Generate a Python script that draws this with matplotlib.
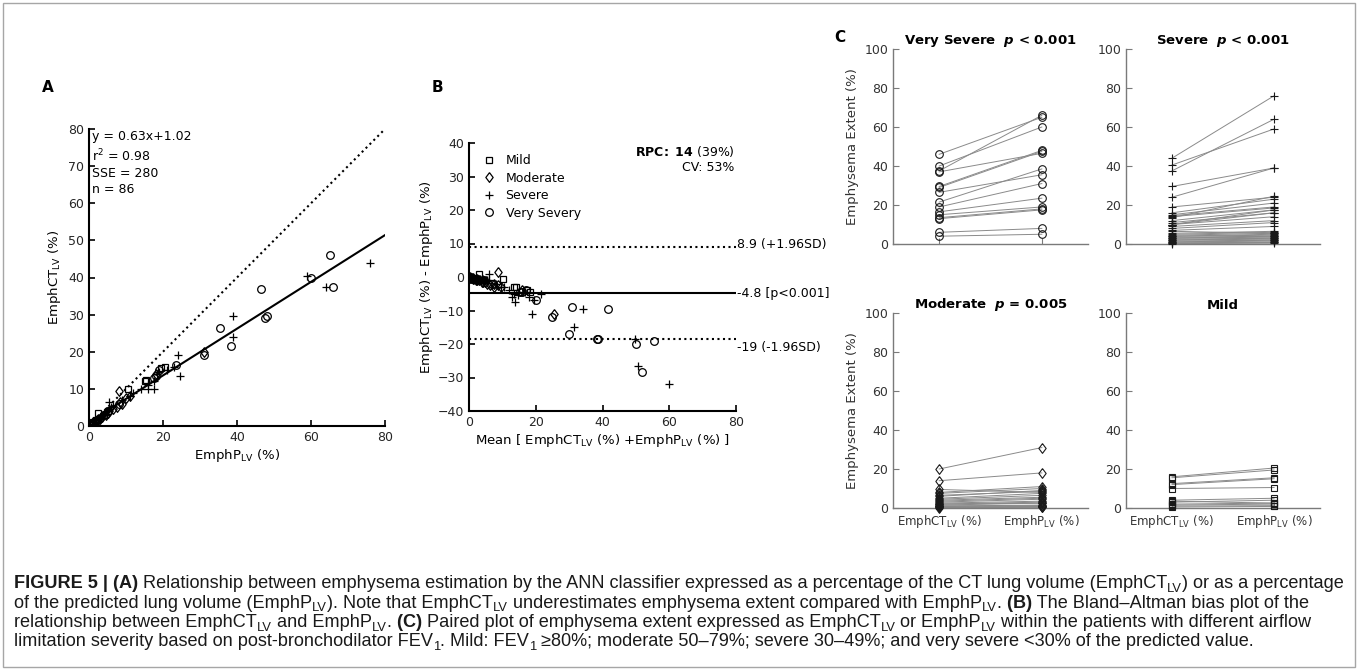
import numpy as np
import matplotlib
matplotlib.use('Agg')
import matplotlib.pyplot as plt
from matplotlib import font_manager
from matplotlib.patches import Rectangle

plt.rcParams['font.family'] = 'DejaVu Sans'
plt.rcParams['mathtext.fontset'] = 'dejavusans'

# ---- data: emphysema extent (%) per patient, EmphCT_LV and EmphP_LV ----
# very severe (circles)
vs_ct = [46, 40, 37.5, 37, 29.5, 29, 26.5, 21.5, 19, 16.5, 15, 13.5, 13, 6, 4]
vs_p = [65, 60, 66, 46.5, 48, 47.5, 35.5, 38.5, 31, 23.5, 19, 18, 17.5, 8, 5]
# severe (+)
sv_ct = [44, 40.5, 37.5, 29.5, 24, 19, 16, 15, 14.5, 14, 13.5, 12, 11, 10, 10,
         10, 9, 8, 7, 6.5, 5.5, 5, 4.5, 4, 4, 3.5, 3, 3, 2.5, 2, 2, 1.5, 1, 1,
         0.5, 0.5, 0.2]
sv_p = [76, 59, 64, 39, 39, 24, 23, 21, 19, 18.5, 24.5, 17.5, 16, 17.5, 16,
        14, 12, 11, 9, 5.5, 6.5, 6, 5.5, 5, 4.5, 4, 3.5, 4, 3, 2.5, 3, 2, 1.5, 2,
        1, 0.8, 0.4]
# moderate (diamonds)
md_ct = [20, 14, 9.5, 8, 7.5, 6.5, 6, 5, 4.5, 4, 3.5, 3, 2.5, 2, 2, 1.5, 1, 1,
         0.8, 0.5, 0.3, 0.2]
md_p = [31, 18, 8, 11, 10, 8.5, 9, 7.5, 6.5, 5.5, 5, 4.5, 3.5, 3, 2.5, 2.5, 1.5,
        1.2, 1, 0.8, 0.5, 0.3]
# mild (squares)
ml_ct = [16, 15.5, 12.5, 12, 10, 4, 3.5, 3, 2, 1.5, 1, 0.5]
ml_p = [20.5, 19.5, 15.5, 15, 10.5, 5, 2.5, 4, 2.5, 2, 1.2, 0.8]

fit_slope, fit_icpt = 0.63, 1.02
bias, loa_hi, loa_lo = -4.8, 8.9, -18.5
p_values = {'Very Severe': '< 0.001', 'Severe': '< 0.001', 'Moderate': '= 0.005', 'Mild': None}

# MATLAB-like diamond (a bit wider than matplotlib's 'd')
diamond = [(0, 1), (0.75, 0), (0, -1), (-0.75, 0), (0, 1)]
mk_style = {'Mild': ('s', 5.0), 'Moderate': (diamond, 7.0),
            'Severe': ('+', 6.0), 'Very Severy': ('o', 5.5)}

groups = [('Mild', ml_ct, ml_p), ('Moderate', md_ct, md_p),
          ('Severe', sv_ct, sv_p), ('Very Severy', vs_ct, vs_p)]

W, H = 1358, 670
fig = plt.figure(figsize=(W / 100, H / 100), dpi=100)


def box(x0, y0, x1, y1):
    return [x0 / W, 1 - y1 / H, (x1 - x0) / W, (y1 - y0) / H]


def matlab_axes(ax, col='k', lw=1.5):
    for s in ['top', 'right']:
        ax.spines[s].set_visible(False)
    for s in ['left', 'bottom']:
        ax.spines[s].set_color(col)
        ax.spines[s].set_linewidth(lw)
    ax.tick_params(direction='in', length=4, width=lw * 0.8, colors=col,
                   labelsize=9, labelcolor='#262626')


def round_away(v):
    return int(np.sign(v) * np.floor(abs(v) + 0.5))


mk_kw = dict(ls='none', mfc='none', mec='k', mew=0.9)

# ---- panel A ----
axA = fig.add_axes(box(89, 129, 385, 426))
for name, ct, p in groups:
    mk, ms = mk_style[name]
    axA.plot(p, ct, marker=mk, ms=ms, **mk_kw)
xx = np.array([0, 80])
axA.plot(xx, xx, 'k:', lw=1.5)
axA.plot(xx, fit_slope * xx + fit_icpt, 'k-', lw=1.5)
axA.set_xlim(0, 80)
axA.set_ylim(0, 80)
axA.set_xticks(range(0, 81, 20))
axA.set_yticks(range(0, 81, 10))
matlab_axes(axA)
axA.set_xlabel(r'EmphP$_{\mathrm{LV}}$ (%)', fontsize=9.5, labelpad=2)
axA.set_ylabel(r'EmphCT$_{\mathrm{LV}}$ (%)', fontsize=9.5, labelpad=4)
axA.text(0.01, 0.995, 'y = %.2fx+%.2f\nr$^2$ = 0.98\nSSE = 280\nn = 86' % (fit_slope, fit_icpt),
         transform=axA.transAxes, va='top', ha='left', fontsize=9, linespacing=1.3)
fig.text(48 / W, 1 - 88 / H, 'A', fontsize=11, fontweight='bold', ha='center', va='center')

# ---- panel B ----
axB = fig.add_axes(box(469, 143, 736, 411))
for name, ct, p in groups:
    mk, ms = mk_style[name]
    ct = np.array(ct)
    p = np.array(p)
    axB.plot((ct + p) / 2, ct - p, marker=mk, ms=ms, label=name, **mk_kw)
axB.plot(xx, [loa_hi, loa_hi], 'k:', lw=1.5)
axB.plot(xx, [bias, bias], 'k-', lw=1.5)
axB.plot(xx, [loa_lo, loa_lo], 'k:', lw=1.5)
axB.set_xlim(0, 80)
axB.set_ylim(-40, 40)
axB.set_xticks(range(0, 81, 20))
axB.set_yticks(range(-40, 41, 10))
matlab_axes(axB)
axB.set_xlabel(r'Mean [ EmphCT$_{\mathrm{LV}}$ (%) +EmphP$_{\mathrm{LV}}$ (%) ]', fontsize=9.5, labelpad=2)
axB.set_ylabel(r'EmphCT$_{\mathrm{LV}}$ (%) - EmphP$_{\mathrm{LV}}$ (%)', fontsize=9.5, labelpad=2)
axB.text(80.3, loa_hi + 0.8, '%.1f (+1.96SD)' % loa_hi, fontsize=9, va='center', ha='left')
axB.text(80.3, bias, '%.1f [p<0.001]' % bias, fontsize=9, va='center', ha='left')
axB.text(80.3, loa_lo - 2.5, '%d (-1.96SD)' % round_away(loa_lo), fontsize=9, va='center', ha='left')
axB.text(79.5, 37.5, r'$\bf{RPC\!:\ 14}$ (39%)', fontsize=9, ha='right', va='center')
axB.text(79.5, 32.8, 'CV: 53%', fontsize=9, ha='right', va='center')
axB.legend(loc='upper left', frameon=False, fontsize=9, handlelength=1.0,
           handletextpad=0.8, labelspacing=0.35, borderaxespad=0.3,
           bbox_to_anchor=(0.02, 0.99))
fig.text(437 / W, 1 - 88 / H, 'B', fontsize=11, fontweight='bold', ha='center', va='center')

# ---- panel C ----
c_boxes = {'Very Severe': box(893, 49, 1088, 244), 'Severe': box(1126, 49, 1320, 244),
           'Moderate': box(893, 313, 1088, 508), 'Mild': box(1126, 313, 1320, 508)}
c_data = {'Very Severe': (vs_ct, vs_p, 'Very Severy'), 'Severe': (sv_ct, sv_p, 'Severe'),
          'Moderate': (md_ct, md_p, 'Moderate'), 'Mild': (ml_ct, ml_p, 'Mild')}
tick_names = [r'EmphCT$_{\mathrm{LV}}$ (%)', r'EmphP$_{\mathrm{LV}}$ (%)']
for title in ['Very Severe', 'Severe', 'Moderate', 'Mild']:
    ax = fig.add_axes(c_boxes[title])
    ct, p, key = c_data[title]
    mk, ms = mk_style[key]
    for a, b in zip(ct, p):
        ax.plot([1, 2], [a, b], color='#8a8a8a', lw=0.7, zorder=1)
    ax.plot(np.ones(len(ct)), ct, marker=mk, zorder=3, clip_on=False,
            ls='none', mfc='none', mec='#1a1a1a', ms=ms, mew=0.8)
    ax.plot(np.full(len(p), 2), p, marker=mk, zorder=3, clip_on=False,
            ls='none', mfc='none', mec='#1a1a1a', ms=ms, mew=0.8)
    ax.set_xlim(0.55, 2.45)
    ax.set_ylim(0, 100)
    ax.set_yticks(range(0, 101, 20))
    ax.set_xticks([1, 2])
    matlab_axes(ax, col='#7a7a7a', lw=1.0)
    ax.tick_params(labelcolor='#333333')
    if title in ('Very Severe', 'Severe'):
        ax.set_xticklabels([])
    else:
        ax.set_xticklabels(tick_names, fontsize=8.5)
    if title in ('Very Severe', 'Moderate'):
        ax.set_ylabel('Emphysema Extent (%)', fontsize=9.5, color='#333333', labelpad=4)
    pv = p_values[title]
    if pv:
        ttl = title + r'  $\mathbfit{p}$ ' + pv
    else:
        ttl = title
    ax.set_title(ttl, fontsize=9.5, fontweight='bold', pad=3)
fig.text(840 / W, 1 - 38 / H, 'C', fontsize=11, fontweight='bold', ha='center', va='center')

# ---- caption ----
try:
    font_manager.findfont('Liberation Sans Narrow', fallback_to_default=False)
    cap_font = ['Liberation Sans Narrow', 'DejaVu Sans']
except Exception:
    cap_font = ['Liberation Sans', 'DejaVu Sans']

cap_lines = [
    [('FIGURE 5 | (A)', 'b'),
     (' Relationship between emphysema estimation by the ANN classifier expressed as a percentage of the CT lung volume (EmphCT', 'n'),
     ('LV', 's'), (') or as a percentage', 'n')],
    [('of the predicted lung volume (EmphP', 'n'), ('LV', 's'), ('). Note that EmphCT', 'n'), ('LV', 's'),
     (' underestimates emphysema extent compared with EmphP', 'n'), ('LV', 's'), ('.', 'n'),
     (' (B)', 'b'), (' The Bland\u2013Altman bias plot of the', 'n')],
    [('relationship between EmphCT', 'n'), ('LV', 's'), (' and EmphP', 'n'), ('LV', 's'), ('.', 'n'),
     (' (C)', 'b'), (' Paired plot of emphysema extent expressed as EmphCT', 'n'), ('LV', 's'),
     (' or EmphP', 'n'), ('LV', 's'), (' within the patients with different airflow', 'n')],
    [('limitation severity based on post-bronchodilator FEV', 'n'), ('1', 's'),
     ('. Mild: FEV', 'n'), ('1', 's'),
     (' \u226580%; moderate 50\u201379%; severe 30\u201349%; and very severe <30% of the predicted value.', 'n')],
]
cap_base = [588, 607.5, 627, 646.5]
cap_x0 = 14
renderer = fig.canvas.get_renderer()


def draw_caption(size):
    made, widths = [], []
    for i, parts in enumerate(cap_lines):
        x = cap_x0
        yb = H - cap_base[i]
        for txt, kind in parts:
            fs = size * 0.72 if kind == 's' else size
            yy = yb - size * 100 / 72 * 0.22 if kind == 's' else yb
            t = fig.text(x / W, yy / H, txt, fontsize=fs, family=cap_font,
                         fontweight='bold' if kind == 'b' else 'normal',
                         ha='left', va='baseline', color='#1a1a1a')
            made.append(t)
            x = t.get_window_extent(renderer).x1
        widths.append(x - cap_x0)
    return made, widths


trial, w = draw_caption(12)
for t in trial:
    t.remove()
draw_caption(12 * 1331 / w[0])

fig.patches.append(Rectangle((3 / W, 3 / H), (W - 6) / W, (H - 6) / H, transform=fig.transFigure,
                             fill=False, ec='#a6a6a6', lw=1.0))

fig.savefig('out.png', dpi=100)
